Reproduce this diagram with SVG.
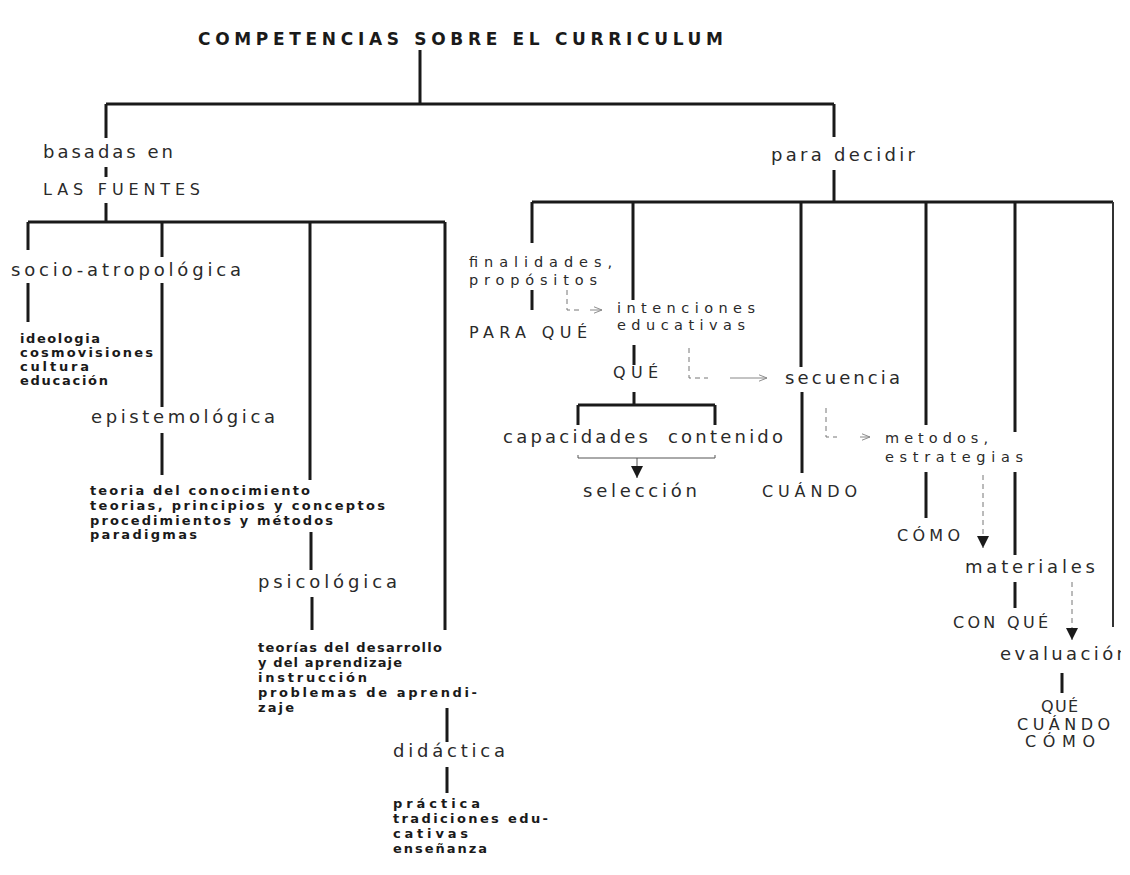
<svg xmlns="http://www.w3.org/2000/svg" width="1130" height="875" viewBox="0 0 1130 875">
<style>
text{font-family:"DejaVu Sans","Liberation Sans",sans-serif;fill:#2a2a2a}
.t{font-size:17px;font-weight:bold;fill:#1a1a1a}
.m{font-size:18px}
.k{font-size:14.5px}
.c{font-size:16px}
.s{font-size:13px;font-weight:bold;fill:#1a1a1a}
.ln{stroke:#1a1a1a;stroke-width:3;fill:none}
.lt{stroke:#333;stroke-width:2;fill:none}
.th{stroke:#555;stroke-width:1;fill:none}
.ds{stroke:#777;stroke-width:1;fill:none;stroke-dasharray:5 4}
.ar{stroke:#888;stroke-width:1;fill:none}
</style>
<defs>
<marker id="open" viewBox="0 0 10 10" refX="10" refY="5" markerWidth="8" markerHeight="8" markerUnits="userSpaceOnUse" orient="auto">
<path d="M0,1 L10,5 L0,9" fill="none" stroke="#888" stroke-width="1.2"/>
</marker>
<marker id="tri" viewBox="0 0 10 10" refX="10" refY="5" markerWidth="12" markerHeight="12" markerUnits="userSpaceOnUse" orient="auto">
<path d="M0,0 L10,5 L0,10 Z" fill="#1a1a1a"/>
</marker>
<clipPath id="edge"><rect x="0" y="0" width="1121" height="875"/></clipPath>
</defs>
<rect width="1130" height="875" fill="#ffffff"/>

<g id="connectors">
<path class="ln" d="M420,50 V104 M106,104 H834 M106,104 V138 M834,104 V137"/>
<path class="ln" d="M106,167 V177 M106,203 V222"/>
<path class="ln" d="M28,222 H445 M28,222 V250 M162,222 V257 M310,222 V480 M445,222 V630"/>
<path class="ln" d="M28,283 V322 M162,283 V407 M162,433 V475 M311,532 V570 M312,597 V630 M447,708 V742 M447,767 V793"/>
<path class="ln" d="M834,170 V202 M532,202 H1113 M532,202 V243 M633,202 V300 M801,202 V367 M926,202 V425 M1015,202 V432"/>
<path class="lt" d="M1113,202 V627"/>
<path class="ln" d="M532,290 V310 M634,345 V365 M634,392 V405 M578,405 H715 M578,405 V425 M715,405 V425 M802,392 V473 M926,472 V518 M1015,472 V555 M1015,582 V608 M1062,673 V693"/>
<path class="th" d="M578,455 V458 H715 V455"/>
<line class="th" x1="637" y1="458" x2="637" y2="478" marker-end="url(#tri)"/>
<path class="ds" d="M567,290 V310 H579"/>
<line class="ar" x1="590" y1="310" x2="602" y2="310" marker-end="url(#open)"/>
<path class="ds" d="M689,348 V378 H708"/>
<line class="ar" x1="730" y1="378" x2="767" y2="378" marker-end="url(#open)"/>
<path class="ds" d="M826,408 V437 H837"/>
<line class="ar" x1="860" y1="437" x2="870" y2="437" marker-end="url(#open)"/>
<line class="ds" x1="983" y1="475" x2="983" y2="548" marker-end="url(#tri)"/>
<line class="ds" x1="1072" y1="582" x2="1072" y2="640" marker-end="url(#tri)"/>
</g>

<g id="title"><text class="t" x="198" y="45" textLength="525" lengthAdjust="spacing">COMPETENCIAS SOBRE EL CURRICULUM</text></g>

<g id="basadas"><text class="m" x="43" y="158" textLength="130" lengthAdjust="spacing">basadas en</text></g>
<g id="fuentes"><text class="c" x="43" y="195" textLength="157" lengthAdjust="spacing">LAS FUENTES</text></g>

<g id="socio"><text class="m" x="11" y="276" textLength="230" lengthAdjust="spacing">socio-atropológica</text></g>
<g id="socio-items">
<text class="s" x="20" y="343" textLength="80" lengthAdjust="spacing">ideologia</text>
<text class="s" x="20" y="357" textLength="133" lengthAdjust="spacing">cosmovisiones</text>
<text class="s" x="20" y="371" textLength="69" lengthAdjust="spacing">cultura</text>
<text class="s" x="20" y="385" textLength="88" lengthAdjust="spacing">educación</text>
</g>

<g id="episte"><text class="m" x="91" y="423" textLength="184" lengthAdjust="spacing">epistemológica</text></g>
<g id="episte-items">
<text class="s" x="90" y="495" textLength="220" lengthAdjust="spacing">teoria del conocimiento</text>
<text class="s" x="90" y="510" textLength="295" lengthAdjust="spacing">teorias, principios y conceptos</text>
<text class="s" x="90" y="525" textLength="243" lengthAdjust="spacing">procedimientos y métodos</text>
<text class="s" x="90" y="539" textLength="107" lengthAdjust="spacing">paradigmas</text>
</g>

<g id="psico"><text class="m" x="258" y="588" textLength="139" lengthAdjust="spacing">psicológica</text></g>
<g id="psico-items">
<text class="s" x="258" y="652" textLength="184" lengthAdjust="spacing">teorías del desarrollo</text>
<text class="s" x="258" y="667" textLength="144" lengthAdjust="spacing">y del aprendizaje</text>
<text class="s" x="258" y="682" textLength="109" lengthAdjust="spacing">instrucción</text>
<text class="s" x="258" y="697" textLength="219" lengthAdjust="spacing">problemas de aprendi-</text>
<text class="s" x="258" y="712" textLength="36" lengthAdjust="spacing">zaje</text>
</g>

<g id="didactica"><text class="m" x="393" y="757" textLength="112" lengthAdjust="spacing">didáctica</text></g>
<g id="didactica-items">
<text class="s" x="393" y="808" textLength="87" lengthAdjust="spacing">práctica</text>
<text class="s" x="393" y="823" textLength="155" lengthAdjust="spacing">tradiciones edu-</text>
<text class="s" x="393" y="838" textLength="75" lengthAdjust="spacing">cativas</text>
<text class="s" x="393" y="853" textLength="94" lengthAdjust="spacing">enseñanza</text>
</g>

<g id="para-decidir"><text class="m" x="771" y="161" textLength="144" lengthAdjust="spacing">para decidir</text></g>

<g id="finalidades">
<text class="k" x="469" y="267" textLength="143" lengthAdjust="spacing">finalidades,</text>
<text class="k" x="469" y="285" textLength="128" lengthAdjust="spacing">propósitos</text>
</g>
<g id="para-que"><text class="c" x="469" y="338" textLength="118" lengthAdjust="spacing">PARA QUÉ</text></g>

<g id="intenciones">
<text class="k" x="617" y="313" textLength="138" lengthAdjust="spacing">intenciones</text>
<text class="k" x="617" y="330" textLength="128" lengthAdjust="spacing">educativas</text>
</g>
<g id="que"><text class="c" x="613" y="378" textLength="45" lengthAdjust="spacing">QUÉ</text></g>

<g id="capacidades"><text class="m" x="503" y="443" textLength="145" lengthAdjust="spacing">capacidades</text></g>
<g id="contenido"><text class="m" x="668" y="443" textLength="115" lengthAdjust="spacing">contenido</text></g>
<g id="seleccion"><text class="m" x="583" y="497" textLength="114" lengthAdjust="spacing">selección</text></g>

<g id="secuencia"><text class="m" x="785" y="384" textLength="115" lengthAdjust="spacing">secuencia</text></g>
<g id="cuando"><text class="c" x="762" y="497" textLength="95" lengthAdjust="spacing">CUÁNDO</text></g>

<g id="metodos">
<text class="k" x="885" y="443" textLength="103" lengthAdjust="spacing">metodos,</text>
<text class="k" x="885" y="462" textLength="138" lengthAdjust="spacing">estrategias</text>
</g>
<g id="como"><text class="c" x="897" y="541" textLength="63" lengthAdjust="spacing">CÓMO</text></g>

<g id="materiales"><text class="m" x="965" y="573" textLength="130" lengthAdjust="spacing">materiales</text></g>
<g id="con-que"><text class="c" x="953" y="628" textLength="95" lengthAdjust="spacing">CON QUÉ</text></g>

<g id="evaluacion"><text class="m" x="1000" y="660" textLength="128" lengthAdjust="spacing" clip-path="url(#edge)">evaluación</text></g>
<g id="evaluacion-items">
<text class="c" x="1041" y="712" textLength="37" lengthAdjust="spacing">QUÉ</text>
<text class="c" x="1017" y="730" textLength="93" lengthAdjust="spacing">CUÁNDO</text>
<text class="c" x="1025" y="747" textLength="70" lengthAdjust="spacing">CÓMO</text>
</g>
</svg>
